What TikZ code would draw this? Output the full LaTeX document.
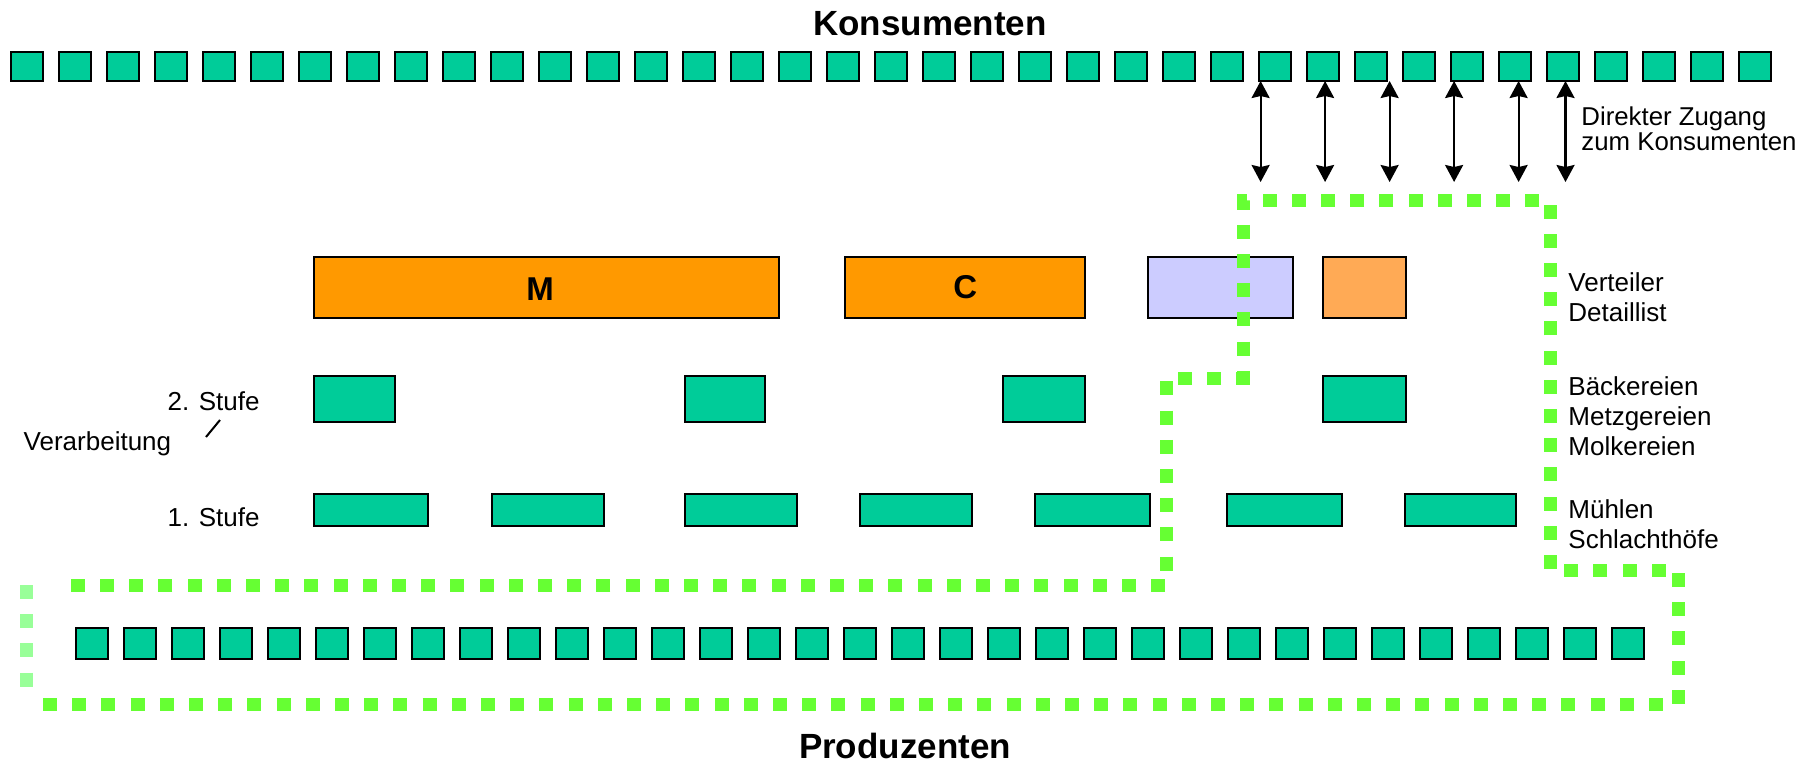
\documentclass[tikz,border=0pt]{standalone}
\usepackage{fontspec}
\setmainfont{Liberation Sans}
\usetikzlibrary{arrows.meta,fit}
\definecolor{tealbox}{RGB}{0,204,153}
\definecolor{orng}{RGB}{255,153,0}
\definecolor{lila}{RGB}{204,204,255}
\definecolor{lorng}{RGB}{255,170,85}
\definecolor{grdot}{RGB}{102,255,51}
\definecolor{lgrdot}{RGB}{153,255,153}
\begin{document}
\begin{tikzpicture}[x=0.5pt,y=-0.5pt,
  sq/.style={draw=black,line width=1pt,fill=tealbox,minimum width=16pt,minimum height=14.5pt,inner sep=0pt,outer sep=0pt,anchor=north west},
  bsq/.style={sq,minimum height=15.5pt},
  box/.style={draw=black,line width=1pt,inner sep=0pt,outer sep=0pt},
  title/.style={font=\bfseries\fontsize{17.5}{20}\selectfont,inner sep=0pt},
  big/.style={font=\bfseries\fontsize{16.5}{19}\selectfont,inner sep=0pt},
  lbl/.style={font=\fontsize{13}{15}\selectfont,inner sep=0pt},
  dlbl/.style={font=\fontsize{12.9}{15}\selectfont,inner sep=0pt},
  grpath/.style={draw=grdot,line width=6.5pt,dash pattern=on 7pt off 7.6pt},
  darrow/.style={line width=1.1pt,{Stealth[length=8.5pt,width=9pt,inset=1pt]}-{Stealth[length=8.5pt,width=9pt,inset=1pt]}}
]
\useasboundingbox (0,0) rectangle (1813,762);

% titles
\node[title,anchor=base] (kons) at (930,35) {Konsumenten};
\node[title,anchor=base] (prod) at (905,758) {Produzenten};

% consumer row
\foreach \i in {0,...,36} {
  \node[sq] (k\i) at ({10.7+48*\i},52.3) {};
}
% producer row
\foreach \i in {0,...,32} {
  \node[bsq] (p\i) at ({76+48*\i},628) {};
}

% distributor row
\node[box,fill=orng,fit={(314.4,256.7)(779.4,318.3)}] (M) {};
\node[box,fill=orng,fit={(845.4,256.7)(1085.4,318.3)}] (C) {};
\node[big] (Mt) at (540,289) {M};
\node[big] (Ct) at (C.center) {C};
\node[box,fill=lila,fit={(1147.7,257)(1293.3,318)}] (V1) {};
\node[box,fill=lorng,fit={(1322.8,257)(1406,318)}] (V2) {};

% 2. Stufe
\node[box,fill=tealbox,fit={(314.4,375.7)(394.8,421.7)}] (s2a) {};
\node[box,fill=tealbox,fit={(684.7,375.7)(765,421.7)}] (s2b) {};
\node[box,fill=tealbox,fit={(1003.3,375.7)(1085.4,421.7)}] (s2c) {};
\node[box,fill=tealbox,fit={(1322.8,375.7)(1406,421.7)}] (s2d) {};

% 1. Stufe
\node[box,fill=tealbox,fit={(314.4,494)(427.5,525.7)}] (s1a) {};
\node[box,fill=tealbox,fit={(492.4,494)(604.3,525.7)}] (s1b) {};
\node[box,fill=tealbox,fit={(684.7,494)(796.7,525.7)}] (s1c) {};
\node[box,fill=tealbox,fit={(859.8,494)(971.7,525.7)}] (s1d) {};
\node[box,fill=tealbox,fit={(1034.9,494)(1149.7,525.7)}] (s1e) {};
\node[box,fill=tealbox,fit={(1227.3,494)(1342,525.7)}] (s1f) {};
\node[box,fill=tealbox,fit={(1404.7,494)(1516.1,525.7)}] (s1g) {};

% green dotted boundary
\draw[grpath] (43,704) -- (1678,704) -- (1678,570) -- (1550,570) -- (1550,200)
  -- (1243,200) -- (1243,378) -- (1166,378) -- (1166,585) -- (58,585);
\draw[grpath,draw=lgrdot] (26,585) -- (26,690);

% direct access arrows
\foreach \n/\x in {1/1260.6,2/1325.1,3/1389.6,4/1454.1,5/1518.6,6/1565.5} {
  \coordinate (at\n) at (\x,81);
  \coordinate (ab\n) at (\x,182);
  \draw[darrow] (at\n) -- (ab\n);
}

% right labels
\node[dlbl,anchor=base west] (dz1) at (1581,125) {Direkter Zugang};
\node[dlbl,anchor=base west] (dz2) at (1581,150) {zum Konsumenten};
\node[lbl,anchor=base west] (r1) at (1568,291.7) {Verteiler};
\node[lbl,anchor=base west] (r2) at (1568,321.7) {Detaillist};
\node[lbl,anchor=base west] (r3) at (1568,395) {Bäckereien};
\node[lbl,anchor=base west] (r4) at (1568,425) {Metzgereien};
\node[lbl,anchor=base west] (r5) at (1568,455) {Molkereien};
\node[lbl,anchor=base west] (r6) at (1568,518) {Mühlen};
\node[lbl,anchor=base west] (r7) at (1568,548) {Schlachthöfe};

% left labels
\node[lbl,anchor=base east] (st2) at (260,410.7) {2. Stufe};
\node[lbl,anchor=base east] (st1) at (260,526.7) {1. Stufe};
\node[lbl,anchor=base west] (verarb) at (23.3,450) {Verarbeitung};
\coordinate (sl1) at (220,420);
\coordinate (sl2) at (206,437);
\draw[line width=1pt] (sl1) -- (sl2);
\end{tikzpicture}
\end{document}
